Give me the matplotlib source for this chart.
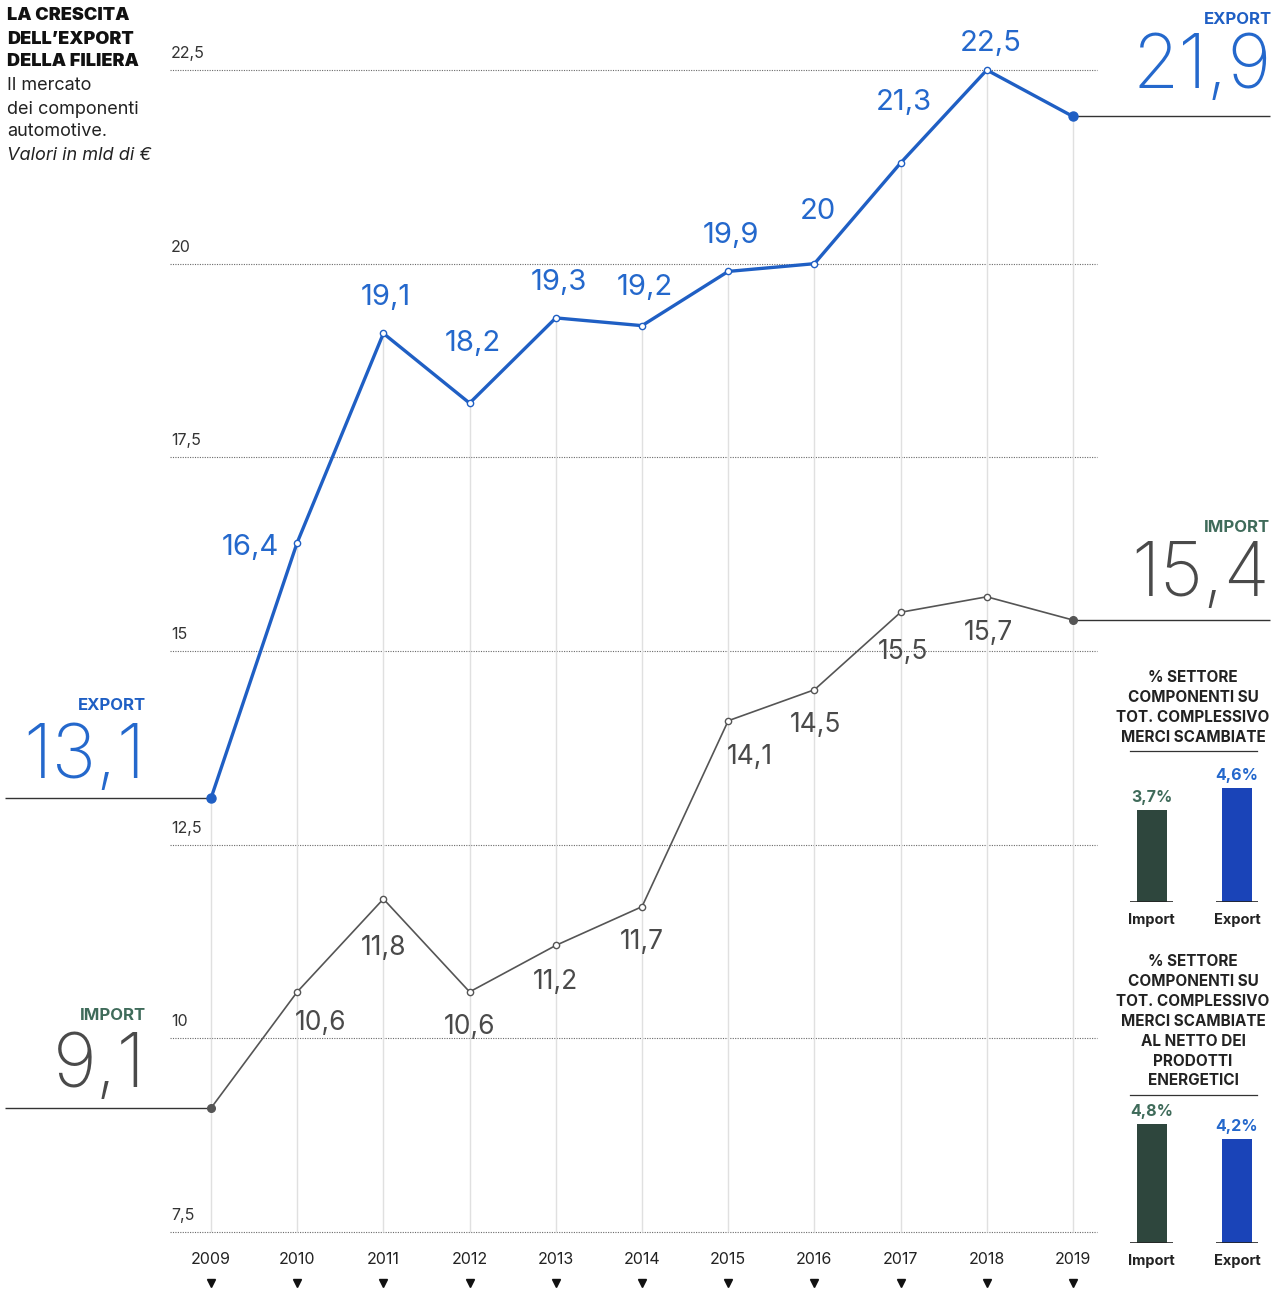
import matplotlib
matplotlib.use("Agg")
import matplotlib.pyplot as plt

# ---- data (billions of euro) ----
years = [2009, 2010, 2011, 2012, 2013, 2014, 2015, 2016, 2017, 2018, 2019]
export_vals = [13.1, 16.4, 19.1, 18.2, 19.3, 19.2, 19.9, 20.0, 21.3, 22.5, 21.9]
import_vals = [9.1, 10.6, 11.8, 10.6, 11.2, 11.7, 14.1, 14.5, 15.5, 15.7, 15.4]
y_ticks = [7.5, 10, 12.5, 15, 17.5, 20, 22.5]

# share of the components sector on total traded goods (%)
share_labels = ["Import", "Export"]
share_total = [3.7, 4.6]
share_non_energy = [4.8, 4.2]

W, H = 1277, 1290
DPI = 100
BLUE = "#1f5fc4"
BLUE_TXT = "#2468cc"
GREY = "#555555"
GREY_TXT = "#4a4a4a"
GREEN = "#3f6b5a"
BAR_IMP = "#2e463d"
BAR_EXP = "#1a44b8"

plt.rcParams["font.family"] = ["Inter", "DejaVu Sans"]

fig = plt.figure(figsize=(W / DPI, H / DPI), dpi=DPI)
fig.patch.set_facecolor("white")

ax = fig.add_axes([0, 0, 1, 1])
ax.set_axis_off()
# scale: 86.2 px per year, 77.47 px per billion
px_year = 86.2
px_unit = 77.47
x0 = 2009 - 211 / px_year
x1 = 2019 + (W - 1073) / px_year
ytop = 22.5 + 70 / px_unit
ybot = ytop - H / px_unit
ax.set_xlim(x0, x1)
ax.set_ylim(ybot, ytop)


def yd(px):
    return ytop - px / px_unit


def xd(px):
    return x0 + px / px_year


def fx(px):
    return px / W


def fy(px):
    return 1 - px / H


# dotted gridlines with labels
gx0, gx1 = xd(170), xd(1097)
ax.hlines(y_ticks, gx0, gx1, colors="#6a6a6a", linestyles=(0, (1, 1.2)), lw=0.8, zorder=1)
for t in y_ticks:
    ax.text(xd(171), t + 9 / px_unit, f"{t:g}".replace(".", ","), fontsize=11.5,
            color="#333333", ha="left", va="bottom")

# faint year verticals
ax.vlines(years, 7.5, export_vals, colors="#e0e0e0", lw=1.0, zorder=1)

# year labels and markers
for yr in years:
    ax.text(yr, yd(1259), str(yr), fontsize=11.5, color="#222222", ha="center", va="center")
ax.plot(years, [yd(1283)] * len(years), "v", color="#111111", ms=6, ls="none")

# series
ax.plot(years, export_vals, color=BLUE, lw=2.4, zorder=4, solid_joinstyle="round")
ax.plot(years, import_vals, color=GREY, lw=1.2, zorder=4)
ax.plot(years[1:-1], export_vals[1:-1], "o", ms=4.5, mfc="white", mec=BLUE, mew=1.0, zorder=5)
ax.plot(years[1:-1], import_vals[1:-1], "o", ms=4.5, mfc="white", mec=GREY, mew=1.0, zorder=5)
ax.plot([years[0], years[-1]], [export_vals[0], export_vals[-1]], "o", ms=6.5, color=BLUE, zorder=5)
ax.plot([years[0], years[-1]], [import_vals[0], import_vals[-1]], "o", ms=5.5, color=GREY, zorder=5)

# end reference lines
ax.hlines([export_vals[0], import_vals[0]], xd(5), years[0], colors="#333333", lw=1.0, zorder=3)
ax.hlines([export_vals[-1], import_vals[-1]], years[-1], xd(1270), colors="#333333", lw=1.0, zorder=3)

# value labels (offset in pixels from the point)
exp_off = {2010: (-47, 5), 2011: (2, -36), 2012: (3, -60), 2013: (3, -35), 2014: (3, -38),
           2015: (3, -36), 2016: (3, -52), 2017: (3, -60), 2018: (4, -26)}
imp_off = {2010: (23, 31), 2011: (0, 49), 2012: (0, 35), 2013: (0, 37), 2014: (0, 35),
           2015: (22, 36), 2016: (1, 35), 2017: (2, 40), 2018: (2, 36)}


def fmt(v):
    return f"{v:g}".replace(".", ",")


for yr, v in zip(years, export_vals):
    if yr in exp_off:
        dx, dy = exp_off[yr]
        ax.annotate(fmt(v), (yr, v), xytext=(dx * 0.72, -dy * 0.72), textcoords="offset points",
                    ha="center", va="center", fontsize=21, color=BLUE_TXT, zorder=6)
for yr, v in zip(years, import_vals):
    if yr in imp_off:
        dx, dy = imp_off[yr]
        ax.annotate(fmt(v), (yr, v), xytext=(dx * 0.72, -dy * 0.72), textcoords="offset points",
                    ha="center", va="center", fontsize=19, color=GREY_TXT, zorder=6)

# big end values
BIG = 54
ax.text(fx(146), fy(706), "EXPORT", transform=fig.transFigure, fontsize=12, fontweight="bold",
        color=BLUE, ha="right", va="center")
ax.text(fx(146), fy(758), fmt(export_vals[0]), transform=fig.transFigure, fontsize=BIG,
        fontweight="light", color=BLUE_TXT, ha="right", va="center")
ax.text(fx(146), fy(1016), "IMPORT", transform=fig.transFigure, fontsize=12, fontweight="bold",
        color=GREEN, ha="right", va="center")
ax.text(fx(146), fy(1067), fmt(import_vals[0]), transform=fig.transFigure, fontsize=BIG,
        fontweight="light", color=GREY_TXT, ha="right", va="center")
ax.text(fx(1272), fy(19), "EXPORT", transform=fig.transFigure, fontsize=12, fontweight="bold",
        color=BLUE, ha="right", va="center")
ax.text(fx(1272), fy(68), fmt(export_vals[-1]), transform=fig.transFigure, fontsize=BIG,
        fontweight="light", color=BLUE_TXT, ha="right", va="center")
ax.text(fx(1270), fy(527), "IMPORT", transform=fig.transFigure, fontsize=12, fontweight="bold",
        color=GREEN, ha="right", va="center")
ax.text(fx(1270), fy(576), fmt(import_vals[-1]), transform=fig.transFigure, fontsize=BIG,
        fontweight="light", color=GREY_TXT, ha="right", va="center")

# title block
title_lines = ["LA CRESCITA", "DELL\u2019EXPORT", "DELLA FILIERA"]
for i, s in enumerate(title_lines):
    fig.text(fx(7), fy(16 + 23 * i), s, fontsize=13, fontweight="black", color="#111111",
             ha="left", va="center")
sub_lines = ["Il mercato", "dei componenti", "automotive."]
for i, s in enumerate(sub_lines):
    fig.text(fx(7), fy(86 + 23 * i), s, fontsize=13, color="#222222", ha="left", va="center")
fig.text(fx(7), fy(156), "Valori in mld di \u20ac", fontsize=13, style="italic",
         color="#222222", ha="left", va="center")


# side bar charts
def share_panel(title, base_px, title_top_px, values):
    lines = title.split("\n")
    for i, s in enumerate(lines):
        fig.text(fx(1193), fy(title_top_px + 19.8 * i), s, fontsize=11, fontweight="bold",
                 color="#222222", ha="center", va="center")
    div_px = title_top_px + 19.8 * (len(lines) - 1) + 14
    fig.add_artist(plt.Line2D([fx(1130), fx(1257)], [fy(div_px), fy(div_px)],
                              color="#333333", lw=0.9))
    px_pct = 24.8
    top_units = 5.6
    left_px, right_px = 1110, 1277
    bax = fig.add_axes([fx(left_px), fy(base_px), (right_px - left_px) / W,
                        top_units * px_pct / H])
    bax.set_axis_off()
    spacing = 1237 - 1151.5
    bax.set_xlim(-(1151.5 - left_px) / spacing, 1 + (right_px - 1237) / spacing)
    bax.set_ylim(0, top_units)
    colors = [BAR_IMP, BAR_EXP]
    txt_colors = [GREEN, BLUE_TXT]
    bax.bar([0, 1], values, width=30 / spacing, color=colors)
    bax.hlines(0, -0.25, 0.25, colors="#222222", lw=1.2)
    bax.hlines(0, 0.75, 1.25, colors="#222222", lw=1.2)
    for i, v in enumerate(values):
        bax.text(i, v + 0.2, f"{v:.1f}%".replace(".", ","), ha="center", va="bottom",
                 fontsize=11.5, fontweight="bold", color=txt_colors[i])
    for i, lab in enumerate(share_labels):
        fig.text(fx([1151.5, 1237][i]), fy(base_px + 18), lab, fontsize=10.5,
                 fontweight="bold", color="#222222", ha="center", va="center")


share_panel("% SETTORE\nCOMPONENTI SU\nTOT. COMPLESSIVO\nMERCI SCAMBIATE", 902, 678, share_total)
share_panel("% SETTORE\nCOMPONENTI SU\nTOT. COMPLESSIVO\nMERCI SCAMBIATE\nAL NETTO DEI\nPRODOTTI\nENERGETICI",
            1243, 962, share_non_energy)

fig.savefig("out.png", dpi=DPI, facecolor="white")
